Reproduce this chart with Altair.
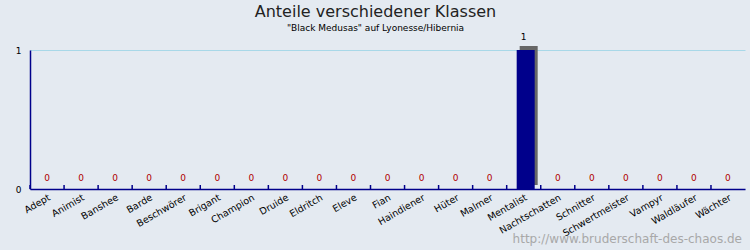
import altair as alt
import pandas as pd

classes = ["Adept", "Animist", "Banshee", "Barde", "Beschwörer", "Brigant", "Champion",
           "Druide", "Eldritch", "Eleve", "Fian", "Haindiener", "Hüter", "Malmer",
           "Mentalist", "Nachtschatten", "Schnitter", "Schwertmeister", "Vampyr",
           "Waldläufer", "Wächter"]
counts = [0, 0, 0, 0, 0, 0, 0, 0, 0, 0, 0, 0, 0, 0, 1, 0, 0, 0, 0, 0, 0]

df = pd.DataFrame({"Klasse": classes, "Anzahl": counts})

W, H = 715, 139
BG = "#e4eaf1"
AXIS = "#00008b"

xenc = alt.X("Klasse:N", sort=classes,
             scale=alt.Scale(paddingInner=0, paddingOuter=0),
             axis=alt.Axis(title=None, labelAngle=330, labelAlign="right",
                           labelBaseline="top", labelPadding=3, ticks=False,
                           domainColor=AXIS, domainWidth=1.5, labelFont="DejaVu Sans",
                           labelFontSize=9.5, labelColor="#000000"))
yscale = alt.Scale(domain=[0, 1], nice=False)
yenc = alt.Y("Anzahl:Q", scale=yscale,
             axis=alt.Axis(title=None, values=[0, 1], format="d", ticks=False,
                           domainColor=AXIS, domainWidth=1.5, labelPadding=9,
                           grid=True, gridColor="#a8d8e8", gridWidth=1,
                           labelFont="DejaVu Sans", labelFontSize=9,
                           labelColor="#000000"))

base = alt.Chart(df)

nonzero = base.transform_filter("datum.Anzahl > 0")

shadow = nonzero.mark_bar(size=18, color="#666666", xOffset=5, yOffset=-4).encode(
    x=xenc, y=yenc)
bars = nonzero.mark_bar(size=18, color="#00008b", xOffset=2).encode(x=xenc, y=yenc)

ticks = base.mark_rule(color=AXIS, strokeWidth=1.5, xOffset=-17).encode(
    x=alt.X("Klasse:N", sort=classes), y=alt.value(H - 4), y2=alt.value(H))

zero_labels = base.transform_filter("datum.Anzahl == 0").mark_text(
    color="#b00000", fontSize=9, font="DejaVu Sans", baseline="bottom", dy=-6).encode(
    x=alt.X("Klasse:N", sort=classes), y=alt.Y("Anzahl:Q", scale=yscale),
    text=alt.Text("Anzahl:Q", format="d"))

top_labels = nonzero.mark_text(
    color="#000000", fontSize=9, font="DejaVu Sans", baseline="bottom", dy=-8, dx=0).encode(
    x=alt.X("Klasse:N", sort=classes), y=alt.Y("Anzahl:Q", scale=yscale),
    text=alt.Text("Anzahl:Q", format="d"))

wm = alt.Chart(pd.DataFrame({"t": ["http://www.bruderschaft-des-chaos.de"]})).mark_text(
    align="right", baseline="middle", fontSize=12, font="DejaVu Sans", color="#a8a8a8").encode(
    x=alt.value(W - 3), y=alt.value(H + 50), text="t:N")

chart = alt.layer(shadow, bars, ticks, zero_labels, top_labels, wm).properties(
    width=W, height=H,
    title=alt.TitleParams(
        text="Anteile verschiedener Klassen",
        subtitle='"Black Medusas" auf Lyonesse/Hibernia',
        anchor="middle", dx=-12, offset=0,
        font="DejaVu Sans", fontSize=16, fontWeight="normal", color="#222222",
        subtitleFont="DejaVu Sans", subtitleFontSize=9, subtitleColor="#000000",
        subtitleFontWeight="normal", subtitlePadding=4),
    autosize=alt.AutoSizeParams(type="none"),
    padding={"left": 30, "top": 50, "right": 5, "bottom": 61},
    background=BG,
).configure_view(stroke=None, fill=BG)

chart.save("out.html", embed_options={"renderer": "svg", "actions": False})
